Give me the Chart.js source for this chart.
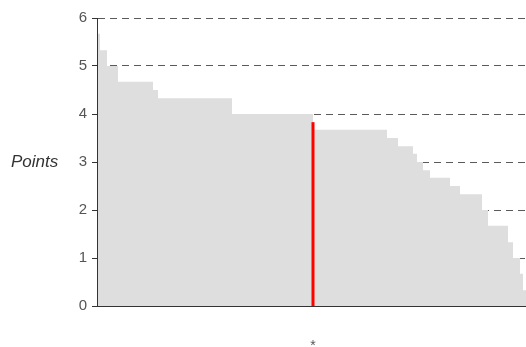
<!DOCTYPE html>
<html>
<head>
<meta charset="utf-8">
<script src="https://cdn.jsdelivr.net/npm/chart.js@4/dist/chart.umd.min.js"></script>
<style>
    html, body { margin: 0; padding: 0; background: #fff; }
    #wrap { width: 526px; height: 347px; }
</style>
</head>
<body>
<div id="wrap"><canvas id="pointsChart" width="526" height="347"></canvas></div>
<script>
// score levels (sorted high -> low) and how many students sit on each level
const scoreLevels = [5.67, 5.33, 5.0, 4.67, 4.5, 4.33, 4.0, 3.67, 3.5, 3.33, 3.17, 3.0, 2.83, 2.67, 2.5, 2.33, 2.0, 1.67, 1.33, 1.0, 0.67, 0.33];
const studentCounts = [3, 7, 11, 35, 5, 74, 81, 74, 11, 15, 4, 6, 7, 20, 10, 22, 6, 20, 5, 7, 3, 3];
const markerScore = 3.83;
const markerLabel = '*';
const yTicks = [0, 1, 2, 3, 4, 5, 6];
const yTitle = 'Points';

document.addEventListener('DOMContentLoaded', () => {
    const totalStudents = studentCounts.reduce((a, b) => a + b, 0);

    // ranked profile: each level runs from its first to its last student
    const profile = [];
    let rank = 0;
    scoreLevels.forEach((level, i) => {
        profile.push({ x: rank, y: level });
        rank += studentCounts[i];
        profile.push({ x: rank, y: level });
    });

    // marker sits after everyone who scored above it
    const markerRank = scoreLevels.reduce((sum, level, i) => level > markerScore ? sum + studentCounts[i] : sum, 0);

    const sideTitle = {
        id: 'sideTitle',
        afterDraw(chart) {
            const { ctx, chartArea } = chart;
            ctx.save();
            ctx.font = 'italic 17px "Liberation Sans", Arial, sans-serif';
            ctx.fillStyle = '#333';
            ctx.textAlign = 'left';
            ctx.textBaseline = 'middle';
            ctx.fillText(yTitle, 11, (chartArea.top + chartArea.bottom) / 2);
            ctx.restore();
        }
    };

    new Chart(document.getElementById('pointsChart'), {
        type: 'line',
        data: {
            datasets: [
                {
                    label: 'marker',
                    data: [{ x: markerRank, y: 0 }, { x: markerRank, y: markerScore }],
                    borderColor: '#ff0000',
                    borderWidth: 3,
                    pointRadius: 0,
                    fill: false,
                    order: 0
                },
                {
                    label: 'scores',
                    data: profile,
                    borderWidth: 0,
                    borderColor: 'rgba(0,0,0,0)',
                    backgroundColor: '#dedede',
                    pointRadius: 0,
                    fill: 'origin',
                    tension: 0,
                    order: 1
                }
            ]
        },
        options: {
            responsive: false,
            animation: false,
            layout: { padding: { top: 18, right: 0, bottom: 0, left: 0 } },
            plugins: {
                legend: { display: false },
                tooltip: { enabled: false }
            },
            scales: {
                x: {
                    type: 'linear',
                    min: 0,
                    max: totalStudents,
                    grid: { display: false, drawTicks: false },
                    border: { display: true, color: '#333', width: 1, z: 1 },
                    afterBuildTicks: (scale) => { scale.ticks = [{ value: markerRank }]; },
                    afterFit: (scale) => { scale.height = 41; },
                    ticks: {
                        z: 1,
                        padding: 32,
                        maxRotation: 0,
                        autoSkip: false,
                        color: '#555',
                        font: { family: '"Liberation Sans", Arial, sans-serif', size: 14 },
                        callback: () => markerLabel
                    }
                },
                y: {
                    min: 0,
                    max: 6,
                    afterBuildTicks: (scale) => { scale.ticks = yTicks.map(v => ({ value: v })); },
                    afterFit: (scale) => { scale.width = 97; },
                    grid: {
                        color: (c) => c.tick && c.tick.value === 0 ? 'rgba(0,0,0,0)' : '#5a5a5a',
                        tickColor: '#333',
                        tickLength: 5,
                        tickBorderDash: []
                    },
                    border: { display: true, color: '#333', width: 1, dash: [7, 5], z: 1 },
                    ticks: {
                        z: 1,
                        padding: 5,
                        color: '#555',
                        font: { family: '"Liberation Sans", Arial, sans-serif', size: 15 }
                    }
                }
            }
        },
        plugins: [sideTitle]
    });
});
</script>
</body>
</html>
